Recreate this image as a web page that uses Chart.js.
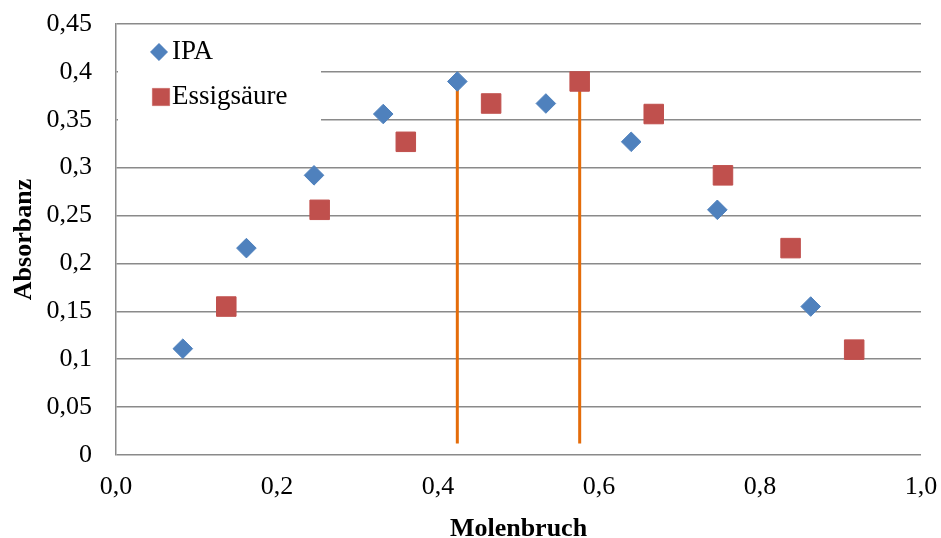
<!DOCTYPE html>
<html>
<head>
<meta charset="utf-8">
<script src="https://cdn.jsdelivr.net/npm/chart.js@4.4.0/dist/chart.umd.min.js"></script>
<style>
html,body{margin:0;padding:0;background:#fff;}
#wrap{width:941px;height:538px;position:relative;}
</style>
</head>
<body>
<div id="wrap"><canvas id="c"></canvas></div>
<script>
const ipaX = [0.083, 0.162, 0.246, 0.332, 0.424, 0.534, 0.640, 0.747, 0.863];
const ipaY = [0.111, 0.216, 0.292, 0.356, 0.390, 0.367, 0.327, 0.256, 0.155];
const essigX = [0.137, 0.253, 0.360, 0.466, 0.576, 0.668, 0.754, 0.838, 0.917];
const essigY = [0.155, 0.256, 0.327, 0.367, 0.390, 0.356, 0.292, 0.216, 0.110];
const line1X = [0.424, 0.424];
const line1Y = [0.012, 0.390];
const line2X = [0.576, 0.576];
const line2Y = [0.012, 0.390];
const xTickValues = [0, 0.2, 0.4, 0.6, 0.8, 1.0];
const xTickLabels = ['0,0', '0,2', '0,4', '0,6', '0,8', '1,0'];
const yTickValues = [0, 0.05, 0.1, 0.15, 0.2, 0.25, 0.3, 0.35, 0.4, 0.45];
const yTickLabels = ['0', '0,05', '0,1', '0,15', '0,2', '0,25', '0,3', '0,35', '0,4', '0,45'];
const seriesLabels = ['IPA', 'Essigsäure'];

const toPts = (xs, ys) => xs.map((x, i) => ({x: x, y: ys[i]}));
const FONT = "'Liberation Serif', 'Times New Roman', serif";
const BLUE = '#4F81BD', RED = '#C0504D', ORANGE = '#E46C0A', GRID = '#8a8a8a';

function labelFor(values, labels, v) {
  for (let i = 0; i < values.length; i++) if (Math.abs(values[i] - v) < 1e-6) return labels[i];
  return '';
}

const insideLegend = {
  id: 'insideLegend',
  beforeDatasetsDraw(chart) {
    const ctx = chart.ctx, a = chart.chartArea;
    ctx.save();
    ctx.fillStyle = '#fff';
    ctx.fillRect(a.left + 2, 30, 321 - a.left - 2, 108);
    const items = [
      {ds: chart.data.datasets[0], y: 52, mx: 159},
      {ds: chart.data.datasets[1], y: 97, mx: 161}
    ];
    items.forEach(it => {
      ctx.fillStyle = it.ds.backgroundColor;
      ctx.strokeStyle = it.ds.backgroundColor;
      ctx.lineWidth = 0.5;
      Chart.helpers.drawPoint(ctx, {
        pointStyle: it.ds.pointStyle, radius: it.ds.pointStyle === 'rect' ? 12.2 : 8.7,
        borderWidth: 0.5, rotation: 0
      }, it.mx, it.y);
      ctx.fillStyle = '#000';
      ctx.font = '27px ' + FONT;
      ctx.textAlign = 'left';
      ctx.textBaseline = 'middle';
      ctx.fillText(it.ds.label, 172, it.y);
    });
    ctx.restore();
  }
};

new Chart(document.getElementById('c'), {
  type: 'scatter',
  data: {
    datasets: [
      {label: seriesLabels[0], data: toPts(ipaX, ipaY), pointStyle: 'rectRot', pointRadius: 9.8, pointHoverRadius: 9.8,
       backgroundColor: BLUE, borderColor: BLUE, borderWidth: 1},
      {label: seriesLabels[1], data: toPts(essigX, essigY), pointStyle: 'rect', pointRadius: 13.8, pointHoverRadius: 13.8,
       backgroundColor: RED, borderColor: RED, borderWidth: 1},
      {label: 'l1', data: toPts(line1X, line1Y), showLine: true, pointRadius: 0, borderColor: ORANGE, borderWidth: 3, backgroundColor: ORANGE},
      {label: 'l2', data: toPts(line2X, line2Y), showLine: true, pointRadius: 0, borderColor: ORANGE, borderWidth: 3, backgroundColor: ORANGE}
    ]
  },
  options: {
    responsive: true,
    maintainAspectRatio: false,
    animation: false,
    layout: {padding: {left: 0, top: 24, right: 20, bottom: 0}},
    plugins: {legend: {display: false}, tooltip: {enabled: false}},
    scales: {
      x: {
        type: 'linear', min: 0, max: 1,
        afterBuildTicks(s) { s.ticks = xTickValues.map(v => ({value: v})); },
        afterFit(s) { s.height = 83; s.paddingLeft = 0; s.paddingRight = 0; },
        ticks: {
          callback: (v) => labelFor(xTickValues, xTickLabels, v),
          color: '#000', font: {family: FONT, size: 26}, padding: 17, maxRotation: 0, autoSkip: false
        },
        grid: {display: false, drawTicks: false},
        border: {display: false},
        title: {display: true, text: 'Molenbruch', color: '#000',
          font: {family: FONT, size: 26, weight: 'bold', lineHeight: 0.8}, padding: {top: 0, bottom: -2}}
      },
      y: {
        type: 'linear', min: 0, max: 0.45,
        afterBuildTicks(s) { s.ticks = yTickValues.map(v => ({value: v})); },
        afterFit(s) { s.width = 116; s.paddingTop = 0; s.paddingBottom = 0; },
        ticks: {
          callback: (v) => labelFor(yTickValues, yTickLabels, v),
          color: '#000', font: {family: FONT, size: 26}, padding: 24, autoSkip: false
        },
        grid: {color: GRID, lineWidth: 1.5, drawTicks: false},
        border: {display: true, color: GRID, width: 1.5},
        title: {display: true, text: 'Absorbanz', color: '#000',
          font: {family: FONT, size: 26, weight: 'bold', lineHeight: 0.8}, padding: 14}
      }
    }
  },
  plugins: [insideLegend]
});
</script>
</body>
</html>
